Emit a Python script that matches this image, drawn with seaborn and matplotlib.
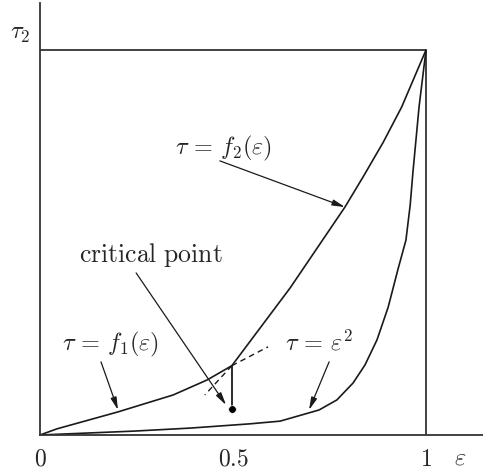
import matplotlib
matplotlib.use("Agg")
import matplotlib.pyplot as plt
import pandas as pd
import seaborn as sns

# upper curve f2 (two pieces meeting at the critical point)
f2_eps = [0.0, 0.044, 0.202, 0.345, 0.433, 0.497, 0.648, 0.790, 0.838, 0.889, 0.937, 1.0]
f2_tau = [0.0, 0.016, 0.060, 0.104, 0.143, 0.180, 0.382, 0.592, 0.672, 0.760, 0.852, 1.0]

# lower curve tau = eps^2
low_eps = [0.0, 0.241, 0.390, 0.544, 0.622, 0.723, 0.769, 0.811, 0.842, 0.873, 0.902,
           0.927, 0.948, 0.959, 0.966, 0.982, 1.0]
low_tau = [0.0, 0.010, 0.018, 0.029, 0.036, 0.065, 0.091, 0.135, 0.182, 0.247, 0.332,
           0.429, 0.506, 0.597, 0.681, 0.852, 1.0]

# critical point, dashed extensions and the dropped point
kink = (0.497, 0.180)
dash_up = (0.591, 0.229)
dash_down = (0.427, 0.104)
dot = (0.497, 0.068)

tick_vals = [0, 0.5, 1]
tick_labels = ["$0$", "$0.5$", "$1$"]

sns.set_style("white")
plt.rcParams["mathtext.fontset"] = "cm"
plt.rcParams["font.family"] = ["DejaVu Serif"]

fig = plt.figure(figsize=(4.83, 4.70), dpi=100)
ax = fig.add_axes([40 / 483, 35 / 470, 443 / 483, 432 / 470])
ax.set_xlim(0, 443 / 386)
ax.set_ylim(0, 432 / 385)

for side in ["top", "right"]:
    ax.spines[side].set_visible(False)
for side in ["left", "bottom"]:
    ax.spines[side].set_color("#333333")
    ax.spines[side].set_linewidth(1.3)

ax.hlines(1, 0, 1, color="#333333", lw=1.3)
ax.vlines(1, 0, 1, color="#333333", lw=1.3)

line = "#1a1a1a"
sns.lineplot(x=f2_eps, y=f2_tau, color=line, lw=1.2, ax=ax, sort=False)
sns.lineplot(x=low_eps, y=low_tau, color=line, lw=1.2, ax=ax, sort=False)

dash_df = pd.DataFrame({"x": [kink[0], dash_up[0]], "y": [kink[1], dash_up[1]]})
sns.lineplot(data=dash_df, x="x", y="y", color=line, lw=1.0, ax=ax, linestyle=(0, (4, 3)), sort=False)
dash_df2 = pd.DataFrame({"x": [kink[0], dash_down[0]], "y": [kink[1], dash_down[1]]})
sns.lineplot(data=dash_df2, x="x", y="y", color=line, lw=1.0, ax=ax, linestyle=(0, (4, 3)), sort=False)

ax.plot([kink[0], dot[0]], [kink[1], dot[1]], color=line, lw=1.3)
sns.scatterplot(x=[dot[0]], y=[dot[1]], color="black", s=30, ax=ax, zorder=5)

ax.set_xticks(tick_vals)
ax.set_xticklabels(tick_labels, fontsize=17)
ax.set_yticks([])
ax.tick_params(axis="x", length=0, pad=9)
ax.set_xlabel("")
ax.set_ylabel("")

fs = 17.5
arrow = dict(arrowstyle="-|>,head_length=0.75,head_width=0.18", color=line, lw=0.9,
             shrinkA=0, shrinkB=0)

ax.text(0.4754, 0.745, r"$\tau\,=\,f_2(\varepsilon)$", fontsize=fs, ha="center", va="center")
ax.annotate("", xy=(0.790, 0.592), xytext=(0.466, 0.712), arrowprops=arrow)

ax.text(0.286, 0.4675, r"$\mathrm{critical\ point}$", fontsize=18.5, ha="center", va="center")
ax.annotate("", xy=(0.482, 0.078), xytext=(0.249, 0.421), arrowprops=arrow)

ax.text(0.183, 0.234, r"$\tau\,=\,f_1(\varepsilon)$", fontsize=fs, ha="center", va="center")
ax.annotate("", xy=(0.202, 0.065), xytext=(0.158, 0.190), arrowprops=arrow)

ax.text(0.723, 0.240, r"$\tau\,=\,\varepsilon^2$", fontsize=fs, ha="center", va="center")
ax.annotate("", xy=(0.697, 0.065), xytext=(0.749, 0.190), arrowprops=arrow)

ax.text(-0.052, 1.044, r"$\tau_2$", fontsize=fs, ha="center", va="center", clip_on=False)
ax.text(1.088, -0.06, r"$\varepsilon$", fontsize=fs, ha="center", va="center", clip_on=False)

fig.savefig("out.png", dpi=100)
